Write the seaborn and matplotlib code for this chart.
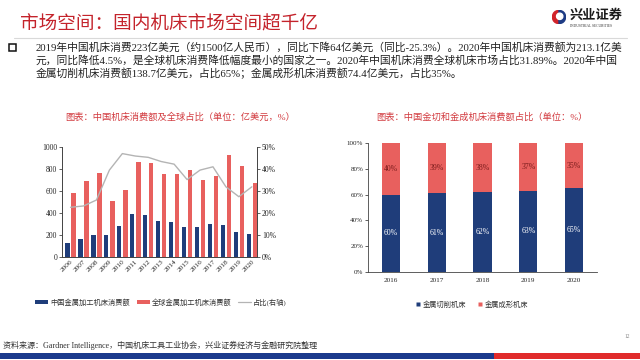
import numpy as np
import pandas as pd
import matplotlib
matplotlib.use("Agg")
import matplotlib.pyplot as plt
from matplotlib.patches import Rectangle, Patch, Wedge
from matplotlib.lines import Line2D
import seaborn as sns

# ---------------- data ----------------
years = ["2006", "2007", "2008", "2009", "2010", "2011", "2012", "2013",
         "2014", "2015", "2016", "2017", "2018", "2019", "2020"]
china_consumption = [130, 163, 196, 199, 283, 392, 386, 325, 316, 274, 274, 298, 289, 223, 213]
global_consumption = [581, 693, 762, 506, 611, 864, 858, 759, 759, 795, 699, 738, 925, 828, 672]
china_share = [22.6, 23.2, 25.9, 39.5, 47.0, 45.9, 45.3, 43.4, 42.2, 35.2, 39.5, 41.0, 31.9, 27.4, 31.9]

years2 = ["2016", "2017", "2018", "2019", "2020"]
cutting_share = [60, 61, 62, 63, 65]
forming_share = [40, 39, 38, 37, 35]

series_names = ["中国金属加工机床消费额", "全球金属加工机床消费额", "占比(右轴)"]
series2_names = ["金属切削机床", "金属成形机床"]

title = "市场空间：国内机床市场空间超千亿"
body_lines = [
    "2019年中国机床消费223亿美元（约1500亿人民币），同比下降64亿美元（同比-25.3%）。2020年中国机床消费额为213.1亿美",
    "元，同比降低4.5%，是全球机床消费降低幅度最小的国家之一。2020年中国机床消费全球机床市场占比31.89%。2020年中国",
    "金属切削机床消费额138.7亿美元，占比65%；金属成形机床消费额74.4亿美元，占比35%。",
]
chart1_title = "图表：中国机床消费额及全球占比（单位：亿美元，%）"
chart2_title = "图表：中国金切和金成机床消费额占比（单位：%）"
source_text = "资料来源：Gardner Intelligence，中国机床工具工业协会，兴业证券经济与金融研究院整理"

# ---------------- style ----------------
sns.set_theme(style="white")
FONTS = ["Liberation Serif", "Noto Sans CJK SC", "DejaVu Sans"]
plt.rcParams["font.family"] = FONTS
plt.rcParams["axes.unicode_minus"] = False

BLUE = "#1f3d7a"
RED = "#e8605e"
GRAY_LINE = "#b4b4b4"
TITLE_RED = "#c4232b"
CHART_TITLE_RED = "#d23a3f"
TXT = "#222222"
SPINE = "#444444"

W, H = 640, 360
fig = plt.figure(figsize=(6.4, 3.6), dpi=100)
fig.patch.set_facecolor("white")


def fx(px):
    return px / W


def fy(py):
    return 1 - py / H


# ---------------- header ----------------
fig.text(fx(20), fy(23), title, color=TITLE_RED, fontsize=13.4,
         ha="left", va="center", family=["Noto Sans CJK SC"], fontweight="medium")
fig.add_artist(Line2D([fx(14), fx(627)], [fy(38), fy(38)], color="#d9d9d9", lw=0.8,
                      transform=fig.transFigure))

# logo
ax_logo = fig.add_axes([fx(551), fy(24), fx(16), 14 / H])
ax_logo.set_xlim(-1, 1)
ax_logo.set_ylim(-1, 1)
ax_logo.set_aspect("equal")
ax_logo.axis("off")
ax_logo.add_patch(Wedge((0, 0), 0.95, 90, 270, color="#d1232a"))
ax_logo.add_patch(Wedge((0, 0), 0.95, 270, 90, color="#1d3b84"))
ax_logo.add_patch(Wedge((0.1, 0.1), 0.45, 0, 360, color="white"))
fig.text(fx(570), fy(15), "兴业证券", fontsize=9.5, color="#1a1a1a", ha="left", va="center",
         family=["Noto Sans CJK SC"], fontweight="bold")
fig.text(fx(570), fy(26), "INDUSTRIAL SECURITIES", fontsize=2.6, color="#333333",
         ha="left", va="center")

# ---------------- body ----------------
fig.add_artist(Rectangle((fx(9), fy(51)), fx(7), 7 / H, transform=fig.transFigure,
                         facecolor="white", edgecolor="#111111", lw=1.1))
for i, line in enumerate(body_lines):
    fig.text(fx(36), fy(47 + 13 * i), line, fontsize=7.75, color=TXT, ha="left", va="center")

fig.text(fx(180), fy(117), chart1_title, fontsize=6.7, color=CHART_TITLE_RED, ha="center", va="center")
fig.text(fx(482), fy(117), chart2_title, fontsize=6.7, color=CHART_TITLE_RED, ha="center", va="center")

# ---------------- left chart ----------------
ax1 = fig.add_axes([fx(62), fy(257), fx(257 - 62), (257 - 147) / H])
df1 = pd.DataFrame({
    "year": years * 2,
    "value": china_consumption + global_consumption,
    "series": [series_names[0]] * len(years) + [series_names[1]] * len(years),
})
sns.barplot(data=df1, x="year", y="value", hue="series", palette=[BLUE, RED],
            width=0.95, gap=0.3, ax=ax1, legend=False, saturation=1, linewidth=0)
ax1.set_xlim(-0.66, len(years) - 0.6)
ax1.set_ylim(0, 1000)
ax1.set_yticks(range(0, 1001, 200))
ax1.set_xlabel("")
ax1.set_ylabel("")
ax1.tick_params(axis="y", labelsize=5.5, length=2, width=0.6, color=SPINE, pad=1.5, left=True)
ax1.tick_params(axis="x", labelsize=5.3, length=0, pad=1.5)
for lab in ax1.get_xticklabels():
    lab.set_rotation(45)
    lab.set_ha("right")
    lab.set_rotation_mode("anchor")
ax1.spines["top"].set_visible(False)
for s in ["left", "bottom", "right"]:
    ax1.spines[s].set_color(SPINE)
    ax1.spines[s].set_linewidth(0.6)

ax2 = ax1.twinx()
sns.lineplot(x=np.arange(len(years)), y=china_share, ax=ax2, color=GRAY_LINE, lw=1.0)
ax2.set_ylim(0, 50)
ax2.set_yticks(range(0, 51, 10))
ax2.set_yticklabels([f"{v}%" for v in range(0, 51, 10)])
ax2.tick_params(axis="y", labelsize=5.5, length=2, width=0.6, color=SPINE, pad=1.5, right=True)
ax2.spines["top"].set_visible(False)
for s in ["left", "bottom", "right"]:
    ax2.spines[s].set_color(SPINE)
    ax2.spines[s].set_linewidth(0.6)
ax2.set_xlim(ax1.get_xlim())
ax2.grid(False)
ax1.grid(False)

h1 = [Patch(facecolor=BLUE, edgecolor="none"),
      Patch(facecolor=RED, edgecolor="none"),
      Line2D([0], [0], color=GRAY_LINE, lw=0.9)]
leg1 = fig.legend(h1, series_names, loc="center", bbox_to_anchor=(fx(161), fy(302)),
                  ncol=3, frameon=False, fontsize=5.2, handlelength=1.8, handleheight=0.45,
                  handletextpad=0.3, columnspacing=0.9)
for t in leg1.get_texts():
    t.set_color("#333333")

# ---------------- right chart ----------------
ax3 = fig.add_axes([fx(368), fy(272), fx(597 - 368), (272 - 143) / H])
total = [c + f for c, f in zip(cutting_share, forming_share)]
sns.barplot(x=years2, y=total, color=RED, width=0.4, ax=ax3, saturation=1, linewidth=0)
sns.barplot(x=years2, y=cutting_share, color=BLUE, width=0.4, ax=ax3, saturation=1, linewidth=0)
ax3.set_xlim(-0.5, len(years2) - 0.5)
ax3.set_ylim(0, 100)
ax3.set_yticks(range(0, 101, 20))
ax3.set_yticklabels([f"{v}%" for v in range(0, 101, 20)])
ax3.tick_params(axis="y", labelsize=5.0, length=2, width=0.6, color=SPINE, pad=1.5, left=True)
ax3.tick_params(axis="x", labelsize=5.2, length=0, pad=4)
ax3.spines["top"].set_visible(False)
ax3.spines["right"].set_visible(False)
for s in ["left", "bottom"]:
    ax3.spines[s].set_color(SPINE)
    ax3.spines[s].set_linewidth(0.6)
ax3.grid(False)
ax3.set_xlabel("")
ax3.set_ylabel("")
for i, (c, f) in enumerate(zip(cutting_share, forming_share)):
    ax3.text(i, c * 0.5, f"{c}%", ha="center", va="center", color="white", fontsize=5.6)
    ax3.text(i, c + f * 0.5, f"{f}%", ha="center", va="center", color="#7a1c1c", fontsize=5.6)

h2 = [Line2D([0], [0], marker="s", color="none", markerfacecolor=BLUE, markeredgecolor="none", markersize=3),
      Line2D([0], [0], marker="s", color="none", markerfacecolor=RED, markeredgecolor="none", markersize=3)]
leg2 = fig.legend(h2, series2_names, loc="center", bbox_to_anchor=(fx(472), fy(304)),
                  ncol=2, frameon=False, fontsize=5.2, handlelength=0.6,
                  handletextpad=0.3, columnspacing=1.6)
for t in leg2.get_texts():
    t.set_color("#333333")

# ---------------- footer ----------------
fig.text(fx(3), fy(345), source_text, fontsize=5.8, color="#333333", ha="left", va="center")
fig.text(fx(627), fy(337), "12", fontsize=4, color="#888888", ha="center", va="center")
fig.add_artist(Rectangle((0, fy(359)), fx(494), 6 / H, transform=fig.transFigure,
                         facecolor="#1b3a8c", edgecolor="none"))
fig.add_artist(Rectangle((fx(494), fy(359)), fx(640 - 494), 6 / H, transform=fig.transFigure,
                         facecolor="#e02b2b", edgecolor="none"))

fig.savefig("out.png", dpi=100, facecolor="white")
